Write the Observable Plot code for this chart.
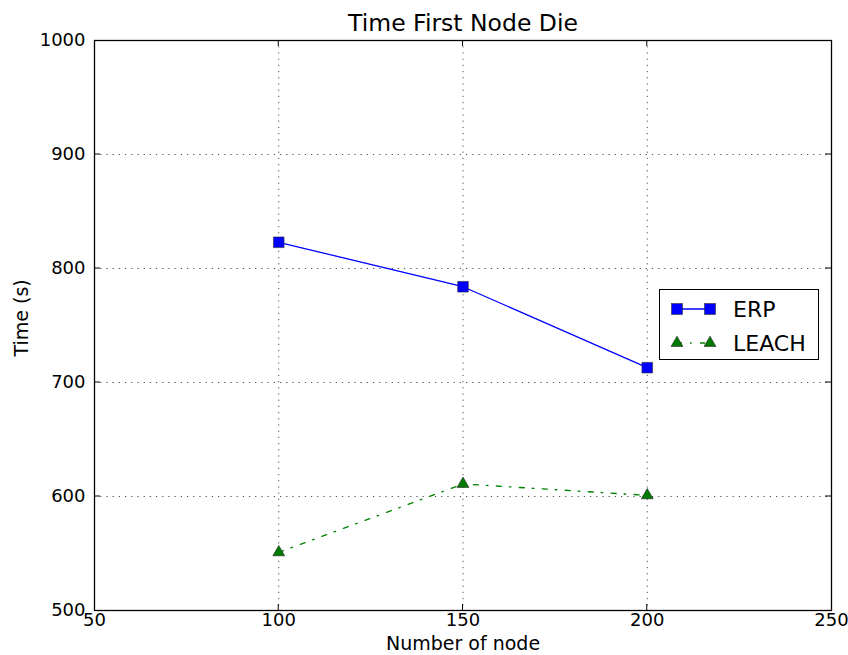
<!DOCTYPE html>
<html>
<head>
<meta charset="utf-8">
<script src="https://cdn.jsdelivr.net/npm/d3@7"></script>
<script src="https://cdn.jsdelivr.net/npm/@observablehq/plot@0.6"></script>
<style>
  html, body { margin: 0; padding: 0; background: #fff; }
  #wrap { position: relative; width: 848px; height: 655px; font-family: "DejaVu Sans", sans-serif; }
  #legend { position: absolute; left: 659px; top: 289px; width: 160px; height: 71px; border: 1.3px solid #000; background: #fff; box-sizing: border-box; }
  #legend svg { position: absolute; left: 0; top: 0; }
</style>
</head>
<body>
<div id="wrap"></div>
<script>
const title = "Time First Node Die";
const xLabel = "Number of node";
const yLabel = "Time (s)";
const nodes = [100, 150, 200];
const erp = [823, 784, 713];
const leach = [551, 611, 601];
const seriesNames = ["ERP", "LEACH"];
const xTicks = [50, 100, 150, 200, 250];
const yTicks = [500, 600, 700, 800, 900, 1000];

const erpData = nodes.map((n, i) => ({x: n, y: erp[i], s: "ERP"}));
const leachData = nodes.map((n, i) => ({x: n, y: leach[i], s: "LEACH"}));

const chart = Plot.plot({
  width: 848,
  height: 655,
  marginLeft: 94,
  marginRight: 17,
  marginTop: 40,
  marginBottom: 45,
  style: {fontFamily: "DejaVu Sans, sans-serif", fontSize: "18px", color: "#000", background: "#fff"},
  x: {domain: [50, 250], ticks: xTicks},
  y: {domain: [500, 1000], ticks: yTicks},
  marks: [
    Plot.gridX(xTicks.slice(1, -1), {stroke: "#000", strokeOpacity: 0.7, strokeWidth: 1, strokeDasharray: "1.2,5"}),
    Plot.gridY(yTicks.slice(1, -1), {stroke: "#000", strokeOpacity: 0.7, strokeWidth: 1, strokeDasharray: "1.2,5"}),
    Plot.axisX(xTicks, {anchor: "bottom", tickSize: 0, tickPadding: 3, fontSize: 18, tickFormat: d3.format("d"), label: null}),
    Plot.text([xLabel], {frameAnchor: "bottom", lineAnchor: "middle", dy: 33, fontSize: 19, fill: "#000"}),
    Plot.axisY(yTicks, {anchor: "left", tickSize: 0, tickPadding: 9, fontSize: 18, tickFormat: d3.format("d"), label: null}),
    Plot.text([yLabel], {frameAnchor: "left", rotate: -90, dx: -73, dy: 31, fontSize: 19, fill: "#000"}),
    Plot.line(erpData, {x: "x", y: "y", stroke: "#0000ff", strokeWidth: 1.3}),
    Plot.line(leachData, {x: "x", y: "y", stroke: "#008000", strokeWidth: 1.4, strokeDasharray: "5,8,1.5,8.5"}),
    Plot.dot(erpData, {x: "x", y: "y", symbol: "square", r: 6, fill: "#0000ff", stroke: "#333", strokeWidth: 0.6}),
    Plot.dot(leachData, {x: "x", y: "y", symbol: "triangle", r: 4.4, fill: "#007a00", stroke: "#222", strokeWidth: 0.6}),
    Plot.frame({stroke: "#000", strokeWidth: 1.3}),
    Plot.text([title], {frameAnchor: "top", lineAnchor: "middle", dy: -17, fontSize: 23.5, fill: "#000"})
  ]
});

const svg = d3.select(chart.tagName.toLowerCase() === "svg" ? chart : chart.querySelector("svg"));
svg.selectAll('g[aria-label="x-axis tick label"], g[aria-label="y-axis tick label"]').attr("font-size", 18);

// inward tick marks on all four sides, using the chart's own scales
const sx = chart.scale("x"), sy = chart.scale("y");
const [x0, x1] = sx.range, [y0, y1] = sy.range;
const g = svg.append("g").attr("stroke", "#000").attr("stroke-width", 1);
for (const t of xTicks.slice(1, -1)) {
  const px = sx.apply(t);
  g.append("line").attr("x1", px).attr("x2", px).attr("y1", y0).attr("y2", y0 - 6);
  g.append("line").attr("x1", px).attr("x2", px).attr("y1", y1).attr("y2", y1 + 6);
}
for (const t of yTicks.slice(1, -1)) {
  const py = sy.apply(t);
  g.append("line").attr("x1", x0).attr("x2", x0 + 6).attr("y1", py).attr("y2", py);
  g.append("line").attr("x1", x1).attr("x2", x1 - 6).attr("y1", py).attr("y2", py);
}

const wrap = document.getElementById("wrap");
wrap.appendChild(chart);

// legend
const legend = document.createElement("div");
legend.id = "legend";
const ls = d3.create("svg").attr("width", 160).attr("height", 71);
const rows = [
  {name: seriesNames[0], color: "#0000ff", dash: null, sym: "square"},
  {name: seriesNames[1], color: "#008000", dash: "5,8,1.5,8.5", sym: "triangle"}
];
rows.forEach((r, i) => {
  const cy = 19 + i * 34;
  ls.append("line").attr("x1", 17).attr("x2", 50).attr("y1", cy).attr("y2", cy)
    .attr("stroke", r.color).attr("stroke-width", 1.3).attr("stroke-dasharray", r.dash);
  for (const cx of [17, 50]) {
    if (r.sym === "square") {
      ls.append("rect").attr("x", cx - 5.5).attr("y", cy - 5.5).attr("width", 11).attr("height", 11)
        .attr("fill", "#0000ff").attr("stroke", "#333").attr("stroke-width", 0.6);
    } else {
      ls.append("path").attr("d", d3.symbol(d3.symbolTriangle, Math.PI * 4.4 * 4.4)())
        .attr("transform", `translate(${cx},${cy})`)
        .attr("fill", "#007a00").attr("stroke", "#222").attr("stroke-width", 0.6);
    }
  }
  ls.append("text").attr("x", 73).attr("y", cy).attr("dy", "0.36em")
    .attr("font-family", "DejaVu Sans, sans-serif").attr("font-size", 22).attr("fill", "#000")
    .text(r.name);
});
legend.appendChild(ls.node());
wrap.appendChild(legend);
</script>
</body>
</html>
